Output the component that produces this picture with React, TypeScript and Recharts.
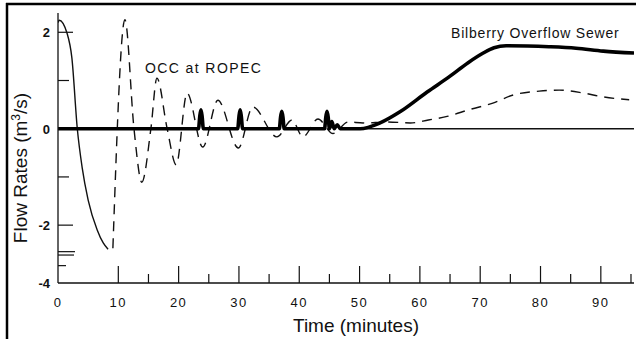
import React from "react";
import { LineChart, Line, XAxis, YAxis } from "recharts";

// Thin solid line (initial drawdown)
const thinT = [0, 0.2, 1.5, 2.3, 3.2, 4.0, 5.0, 6.5, 7.5, 8.3];
const thinV = [2.2, 2.25, 1.98, 1.47, 0, -0.8, -1.48, -2.1, -2.37, -2.5];
// Thin solid baseline later on
const thinBaseT = [50.6, 95.5];
const thinBaseV = [0, 0];

// OCC at ROPEC (dashed)
const occT = [9.1, 11.1, 12.6, 13.9, 15.4, 16.4, 18.1, 19.6, 21.4, 24.0, 26.5, 29.9, 32.3, 36.3, 38.8, 40.6, 43.1, 45.6, 48.1, 50.6, 54.6, 58.4, 61.4, 64.7, 68.3, 72.1, 75.5, 79.8, 83.1, 87.1, 90.4, 94.7];
const occV = [-2.48, 2.26, 0, -1.11, 0, 1.05, 0, -0.75, 0.74, -0.38, 0.59, -0.4, 0.45, -0.17, 0.18, -0.17, 0.2, -0.1, 0.14, 0.12, 0.14, 0.12, 0.18, 0.26, 0.4, 0.53, 0.7, 0.78, 0.8, 0.74, 0.66, 0.6];

// Bilberry Overflow Sewer (thick)
const bilT = [0, 23.3, 23.5, 23.7, 23.9, 24.1, 29.8, 30.0, 30.2, 30.4, 30.6, 36.7, 36.9, 37.1, 37.3, 37.5, 44.2, 44.4, 44.6, 44.8, 45.0, 45.4, 45.8, 46.3, 46.8, 50.1, 53.4, 56.7, 61.2, 65.0, 68.0, 70.5, 72.3, 74.3, 81.4, 85.9, 90.4, 95.5];
const bilV = [0, 0, 0.25, 0.39, 0.25, 0, 0, 0.25, 0.39, 0.25, 0, 0, 0.24, 0.36, 0.24, 0, 0, 0.24, 0.36, 0.24, 0, 0.15, 0, 0.08, 0, 0, 0.12, 0.35, 0.76, 1.09, 1.37, 1.57, 1.68, 1.72, 1.7, 1.67, 1.61, 1.57];

const xTicks = [0, 10, 15, 20, 25, 30, 35, 40, 45, 50, 55, 60, 65, 70, 75, 80, 85, 90, 95];
const xMajor = [10, 20, 30, 40, 50, 60, 70, 80, 90];
const xLabels = ["0", "10", "20", "30", "40", "50", "60", "70", "80", "90"];

const yTicks = [2, 1, 0, -1, -2, -2.55, -2.62, -2.84, -3.2];
const yTickLen = [15, 11, 0, 11, 15, 17, 16, 8, 0];
const yLabelVals = [2, 0, -2, -3.2];
const yLabels = ["2", "0", "-2", "-4"];

const toData = (ts: number[], vs: number[]) => ts.map((t, i) => ({ t, v: vs[i] }));

const FONT = "'Liberation Sans', Arial, Helvetica, sans-serif";

const XTick = (props: any) => {
  const { x, y, payload } = props;
  const v = payload.value;
  const len = v === 0 ? 0 : xMajor.includes(v) ? 17 : 9;
  const li = v % 10 === 0 ? v / 10 : -1;
  const label = li >= 0 ? xLabels[li] : null;
  return (
    <g>
      {len > 0 && <line x1={x} x2={x} y1={y} y2={y - len} stroke="#111" strokeWidth={1.2} />}
      {label && (
        <text x={x} y={y + 24} textAnchor="middle" fontSize={13} letterSpacing={1.5} fontFamily={FONT} fill="#111">
          {label}
        </text>
      )}
    </g>
  );
};

const YTick = (props: any) => {
  const { x, y, payload } = props;
  const v = payload.value;
  const idx = yTicks.indexOf(v);
  const len = idx >= 0 ? yTickLen[idx] : 0;
  const li = yLabelVals.indexOf(v);
  return (
    <g>
      {len > 0 && <line x1={x} x2={x + len} y1={y} y2={y} stroke="#111" strokeWidth={1.2} />}
      {li >= 0 && (
        <text x={x - 8} y={y + 5} textAnchor="end" fontSize={13} fontFamily={FONT} fontWeight="bold" fill="#111">
          {yLabels[li]}
        </text>
      )}
    </g>
  );
};

export default function App() {
  return (
    <div style={{ position: "fixed", left: 0, top: 0, width: 636, height: 339, background: "#fff" }}>
      <LineChart width={636} height={339} margin={{ top: 13, right: 2, bottom: 0, left: 0 }}>
        <XAxis
          type="number"
          dataKey="t"
          domain={[0, 95.5]}
          ticks={xTicks}
          interval={0}
          allowDataOverflow
          height={56}
          tickSize={0}
          tickMargin={0}
          tickLine={false}
          tick={<XTick />}
          axisLine={{ stroke: "#111", strokeWidth: 1.3 }}
        />
        <YAxis
          type="number"
          dataKey="v"
          domain={[-3.2, 2.4]}
          ticks={yTicks}
          interval={0}
          allowDataOverflow
          width={58}
          tickSize={0}
          tickMargin={0}
          tickLine={false}
          tick={<YTick />}
          axisLine={{ stroke: "#111", strokeWidth: 1.3 }}
        />
        <Line data={toData(thinBaseT, thinBaseV)} dataKey="v" type="linear" stroke="#111" strokeWidth={1.4} dot={false} isAnimationActive={false} />
        <Line data={toData(thinT, thinV)} dataKey="v" type="monotone" stroke="#111" strokeWidth={1.4} dot={false} isAnimationActive={false} />
        <Line data={toData(occT, occV)} dataKey="v" type="monotone" stroke="#111" strokeWidth={1.4} strokeDasharray="10 7" dot={false} isAnimationActive={false} />
        <Line data={toData(bilT, bilV)} dataKey="v" type="monotone" stroke="#000" strokeWidth={3.6} dot={false} isAnimationActive={false} />
      </LineChart>
      <svg width={636} height={339} style={{ position: "absolute", left: 0, top: 0, pointerEvents: "none" }}>
        <line x1={7} x2={7} y1={3} y2={339} stroke="#000" strokeWidth={2.5} />
        <line x1={6} x2={636} y1={4} y2={4} stroke="#000" strokeWidth={2.5} />
        <text x={145} y={73} fontSize={14} letterSpacing={1.4} fontFamily={FONT} fill="#111">OCC at ROPEC</text>
        <text x={451} y={38} fontSize={14} letterSpacing={0.8} fontFamily={FONT} fill="#111">Bilberry Overflow Sewer</text>
        <text x={356} y={332} textAnchor="middle" fontSize={19} fontFamily={FONT} fill="#111">Time (minutes)</text>
        <text x={27} y={168} textAnchor="middle" fontSize={19} fontFamily={FONT} fill="#111" transform="rotate(-90 27 168)">
          Flow Rates (m<tspan dy={-7} fontSize={12}>3</tspan><tspan dy={7}>/s)</tspan>
        </text>
      </svg>
    </div>
  );
}
